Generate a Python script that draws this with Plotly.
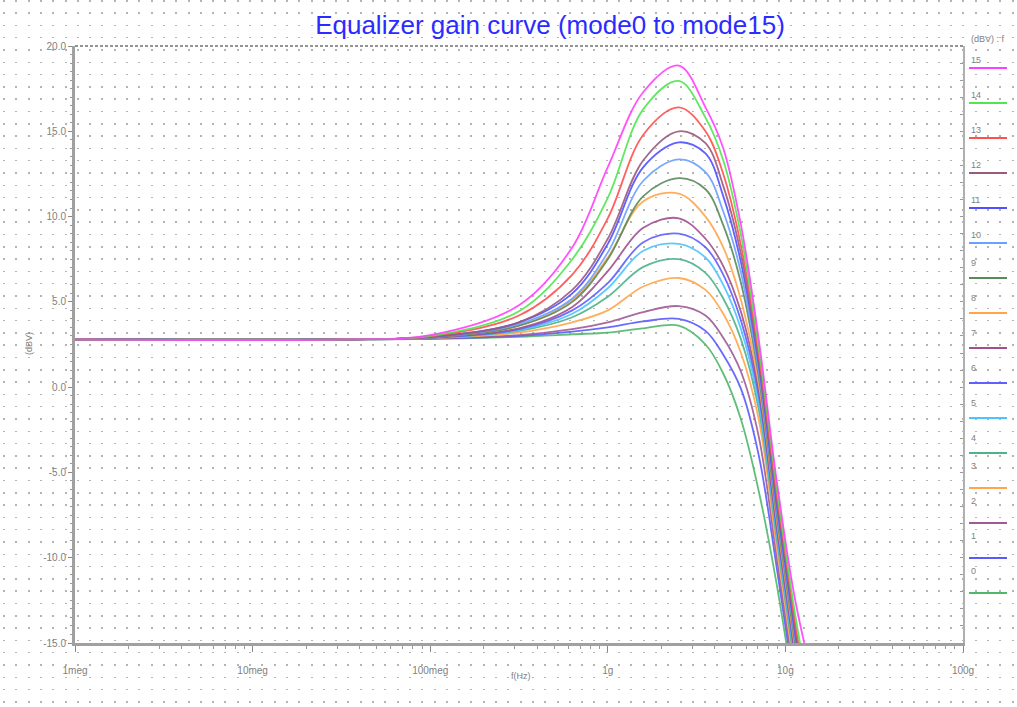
import plotly.graph_objects as go

# Frequency sample points (Hz) shared by every equalizer mode
freq_hz = [1.0e6, 3.16e7, 1.0e8, 3.16e8, 6.31e8, 1.0e9, 1.585e9, 2.512e9,
           3.548e9, 4.467e9, 5.623e9, 7.079e9, 8.913e9, 1.122e10, 1.413e10]

# Gain (dBV) of each mode at the frequencies above
gain_mode0 = [2.8, 2.8, 2.83, 2.95, 3.1, 3.2, 3.45, 3.6, 2.5, 0.8, -1.9, -6.1, -11.5, -18.0, -24.5]
gain_mode1 = [2.8, 2.8, 2.84, 3.0, 3.25, 3.5, 3.85, 4.0, 3.3, 1.9, -0.1, -4.0, -10.5, -17.5, -24.0]
gain_mode2 = [2.8, 2.8, 2.85, 3.05, 3.4, 3.8, 4.4, 4.75, 4.2, 2.9, 0.9, -2.9, -9.9, -17.0, -23.5]
gain_mode3 = [2.8, 2.8, 2.87, 3.2, 3.8, 4.5, 5.9, 6.4, 5.7, 4.3, 2.0, -1.9, -9.3, -16.5, -23.0]
gain_mode4 = [2.8, 2.8, 2.88, 3.3, 4.1, 5.3, 7.05, 7.5, 6.7, 5.2, 2.8, -1.3, -8.8, -16.1, -23.0]
gain_mode5 = [2.8, 2.8, 2.9, 3.35, 4.3, 5.8, 8.0, 8.4, 7.6, 6.0, 3.4, -0.9, -8.5, -15.8, -22.5]
gain_mode6 = [2.8, 2.8, 2.9, 3.4, 4.5, 6.1, 8.5, 9.0, 8.2, 6.6, 3.9, -0.5, -8.2, -15.5, -22.0]
gain_mode7 = [2.8, 2.8, 2.9, 3.45, 4.7, 6.8, 9.35, 9.9, 8.7, 7.1, 4.4, -0.2, -8.0, -15.3, -22.0]
gain_mode8 = [2.8, 2.8, 2.92, 3.6, 5.1, 7.6, 10.9, 11.35, 10.0, 8.2, 5.1, 0.2, -7.7, -15.0, -21.5]
gain_mode9 = [2.8, 2.8, 2.92, 3.6, 5.0, 7.5, 11.2, 12.25, 11.6, 9.5, 6.1, 0.6, -7.4, -14.7, -21.5]
gain_mode10 = [2.8, 2.8, 2.93, 3.7, 5.2, 7.9, 12.1, 13.35, 12.6, 10.3, 6.7, 0.9, -7.1, -14.4, -21.0]
gain_mode11 = [2.8, 2.8, 2.95, 3.8, 5.5, 8.4, 12.9, 14.35, 13.7, 11.2, 7.3, 1.3, -6.8, -14.1, -21.0]
gain_mode12 = [2.8, 2.8, 2.95, 3.8, 5.7, 8.7, 13.3, 15.0, 14.3, 11.8, 7.8, 1.6, -6.5, -13.8, -20.5]
gain_mode13 = [2.8, 2.8, 2.98, 4.2, 6.6, 9.9, 14.8, 16.4, 15.0, 12.5, 8.3, 1.9, -6.2, -13.5, -20.0]
gain_mode14 = [2.8, 2.8, 3.0, 4.45, 7.5, 11.1, 16.3, 17.95, 15.8, 13.3, 8.9, 2.3, -5.8, -13.0, -19.0]
gain_mode15 = [2.8, 2.8, 3.05, 4.8, 8.2, 12.9, 17.3, 18.85, 16.4, 14.0, 9.5, 2.8, -5.4, -12.2, -17.0]

mode_labels = ["0", "1", "2", "3", "4", "5", "6", "7",
               "8", "9", "10", "11", "12", "13", "14", "15"]
mode_colors = ["#4fb86a", "#5a5aff", "#a05a96", "#ffa64d", "#4db38a", "#4dc3ff",
               "#6060ff", "#a0508c", "#ffa64d", "#5a8a5a", "#6aa0ff", "#5050ff",
               "#9a5a80", "#ff5050", "#50e650", "#ff40ff"]

x_tick_vals = [1e6, 1e7, 1e8, 1e9, 1e10, 1e11]
x_tick_text = ["1meg", "10meg", "100meg", "1g", "10g", "100g"]
y_tick_vals = [-15, -10, -5, 0, 5, 10, 15, 20]
y_tick_text = ["-15.0", "-10.0", "-5.0", "0.0", "5.0", "10.0", "15.0", "20.0"]

mode_gains = [gain_mode0, gain_mode1, gain_mode2, gain_mode3, gain_mode4, gain_mode5,
              gain_mode6, gain_mode7, gain_mode8, gain_mode9, gain_mode10, gain_mode11,
              gain_mode12, gain_mode13, gain_mode14, gain_mode15]

W, H = 1017, 707
PL, PR, PT, PB = 75, 963, 46, 643   # plot frame in page pixels


def px(x):
    return x / W


def py(y):
    return 1 - y / H


fig = go.Figure()

# Page-wide dotted background lattice (dashed vertical grid lines)
fig.add_trace(go.Scatter(x=[], y=[], xaxis="x", yaxis="y", showlegend=False,
                         hoverinfo="skip"))

for label, color, gains in zip(mode_labels, mode_colors, mode_gains):
    fig.add_trace(go.Scatter(
        x=freq_hz, y=gains, mode="lines", name=label,
        line=dict(color=color, width=1.8, shape="spline", smoothing=1.0),
        opacity=0.9, xaxis="x2", yaxis="y2", showlegend=False))

# Right-hand frame axis with ticks
fig.add_trace(go.Scatter(x=[], y=[], xaxis="x2", yaxis="y3", showlegend=False,
                         hoverinfo="skip"))

tick_font = dict(family="Liberation Sans, Arial, sans-serif", size=10, color="#808080")

fig.update_layout(
    width=W, height=H, autosize=False,
    margin=dict(l=0, r=0, t=0, b=0, pad=0),
    paper_bgcolor="white", plot_bgcolor="rgba(0,0,0,0)",
    showlegend=False,
    xaxis=dict(domain=[0, 1], range=[0, W], showgrid=True, dtick=12.3, tick0=4,
               gridcolor="#b4b4b4", gridwidth=1.5, griddash="1.5px,10.8px",
               zeroline=False, showticklabels=False, ticks="", fixedrange=True,
               automargin=False),
    yaxis=dict(domain=[0, 1], range=[0, H], showgrid=False, zeroline=False,
               showticklabels=False, ticks="", fixedrange=True, automargin=False),
    xaxis2=dict(domain=[px(PL), px(PR)], type="log", range=[6, 11], anchor="y2",
                showgrid=False, zeroline=False, automargin=False,
                showline=True, linecolor="#a0a0a0", linewidth=3,
                tickvals=x_tick_vals, ticktext=x_tick_text,
                ticks="outside", ticklen=6, tickcolor="#888888", tickwidth=1,
                ticklabelstandoff=10,
                minor=dict(ticks="outside", ticklen=3, tickcolor="#999999",
                           dtick="D1", showgrid=False),
                tickfont=tick_font),
    yaxis2=dict(domain=[py(PB), py(PT)], range=[-15, 20], anchor="x2",
                showgrid=False, zeroline=False, automargin=False,
                showline=True, linecolor="#a0a0a0", linewidth=3,
                tickvals=y_tick_vals, ticktext=y_tick_text,
                ticks="outside", ticklen=4, tickcolor="#888888", tickwidth=1,
                minor=dict(ticks="outside", ticklen=2, tickcolor="#999999",
                           dtick=0.5, showgrid=False),
                tickfont=tick_font),
    yaxis3=dict(overlaying="y2", anchor="x2", side="right", range=[-15, 20],
                showgrid=False, zeroline=False, showticklabels=False,
                automargin=False,
                showline=True, linecolor="#b0b0b0", linewidth=1.5,
                ticks="inside", ticklen=3, tickcolor="#999999", dtick=1),
    title=dict(text="Equalizer gain curve (mode0 to mode15)",
               x=px(550), xanchor="center", y=py(25), yanchor="middle",
               font=dict(family="Liberation Sans, Arial, sans-serif", size=26,
                         color="#2b2bff")),
)

# Dashed top edge of the plot frame
fig.add_shape(type="line", xref="paper", yref="paper",
              x0=px(PL), x1=px(PR), y0=py(PT), y1=py(PT),
              line=dict(color="#707070", width=1.5, dash="3px,2px"))

small = dict(family="Liberation Sans, Arial, sans-serif", size=9, color="#808080")

# Axis titles
fig.add_annotation(text="(dBV)", xref="paper", yref="paper", x=px(22), y=py(344),
                   showarrow=False, textangle=-90, font=small)
fig.add_annotation(text="f(Hz)", xref="paper", yref="paper", x=px(521), y=py(683),
                   showarrow=False, font=small)

# Signal list at the right: label above a short colored sample line
fig.add_annotation(text="(dBV) : f", xref="paper", yref="paper", x=px(969), y=py(32),
                   xanchor="left", showarrow=False, font=small)
for i, (label, color) in enumerate(zip(mode_labels, mode_colors)):
    row = 15 - i
    y_text = 53 + 35 * row
    y_line = 68 + 35 * row
    fig.add_annotation(text=label, xref="paper", yref="paper", x=px(969), y=py(y_text),
                       xanchor="left", showarrow=False, font=small)
    fig.add_shape(type="line", xref="paper", yref="paper",
                  x0=px(969), x1=px(1007), y0=py(y_line), y1=py(y_line),
                  line=dict(color=color, width=2))

# Page body without default margin so the figure fills the window exactly
fig.write_html("out.html",
               post_script="document.body.style.margin='0';"
                           "document.body.style.overflow='hidden';")
